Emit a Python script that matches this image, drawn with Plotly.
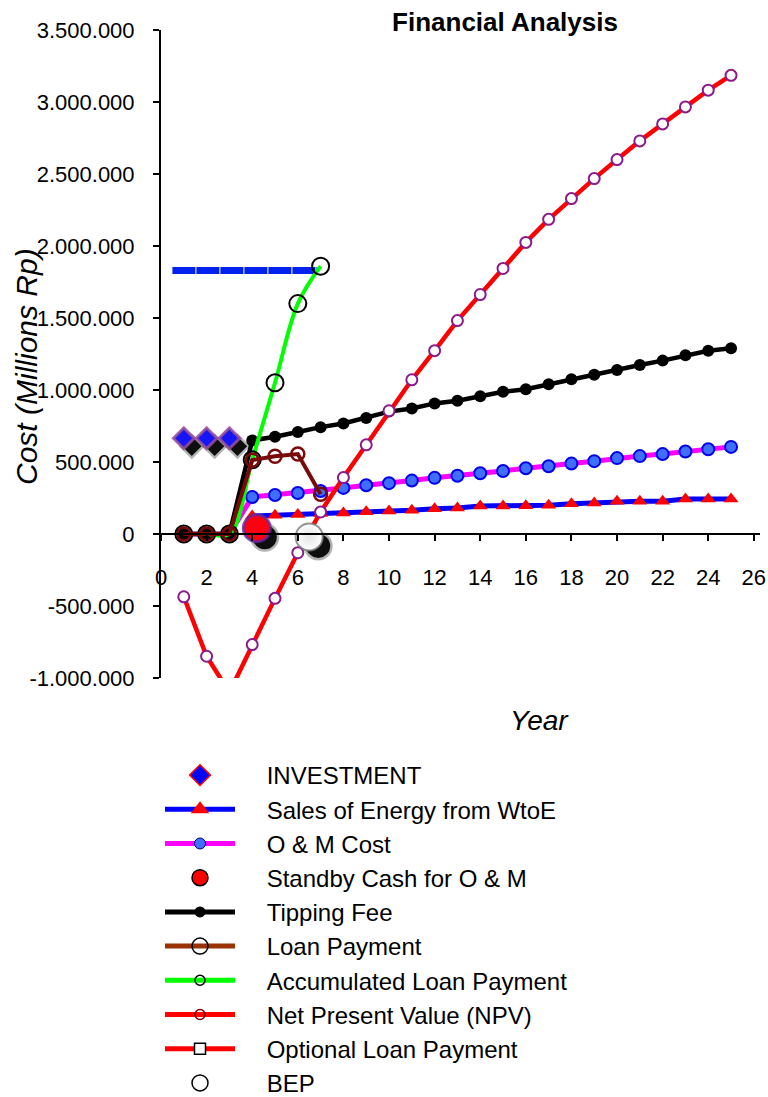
import plotly.graph_objects as go

# ---- data (values in Rp, millions) ----
years = list(range(1, 26))
project_years = list(range(1, 8))

investment_years = [1, 2, 3]
investment = [665000, 665000, 665000]

sales_years = list(range(4, 26))
sales = [125000, 130000, 135000, 142000, 146000, 155000, 160000, 165000, 175000, 180000,
         195000, 195000, 197000, 200000, 210000, 216000, 227000, 227000, 228000, 243000,
         243000, 243000]

om_cost = [0, 0, 0, 257000, 271000, 285000, 299000, 320000, 339000, 353000, 371000, 390000,
           404000, 422000, 438000, 457000, 470000, 489000, 506000, 527000, 541000, 555000,
           573000, 589000, 605000]

tipping_fee = [0, 0, 0, 650000, 675000, 708000, 742000, 767000, 805000, 850000, 872000,
               907000, 925000, 957000, 988000, 1005000, 1040000, 1074000, 1106000, 1139000,
               1174000, 1204000, 1241000, 1273000, 1290000]

npv = [-436000, -849000, -1100000, -768000, -447000, -130000, 153000, 392000, 619000, 856000,
       1071000, 1273000, 1482000, 1663000, 1844000, 2025000, 2185000, 2329000, 2468000,
       2600000, 2730000, 2848000, 2966000, 3082000, 3185000]

loan_payment = [0, 0, 0, 513000, 540000, 555000, 276000]
accumulated_loan = [0, 0, 0, 515000, 1050000, 1600000, 1860000]

total_cost_span = [0.5, 6.85]
total_cost = [1830000, 1830000]

standby_x = [4.2]
standby_cash = [40000]

bep_x = [6.5]
bep_y = [-20000]

x_ticks = list(range(0, 27, 2))
x_tick_labels = [str(v) for v in x_ticks]
y_ticks = [-1000000, -500000, 0, 500000, 1000000, 1500000, 2000000, 2500000, 3000000, 3500000]
y_tick_labels = ["-1.000.000", "-500.000", "0", "500.000", "1.000.000", "1.500.000",
                 "2.000.000", "2.500.000", "3.000.000", "3.500.000"]

legend_names = ["INVESTMENT", "Sales of Energy from WtoE", "O & M Cost",
                "Standby Cash for O & M", "Tipping Fee", "Loan Payment",
                "Accumulated Loan Payment", "Net Present Value (NPV)",
                "Optional Loan Payment", "BEP"]

# ---- geometry ----
W, H = 768, 1097
M_L, M_R, M_T, M_B = 161, 8, 30, 419
X_RANGE = [0, 26.27]
Y_RANGE = [-1000000, 3500000]
plot_w = W - M_L - M_R
plot_h = H - M_T - M_B
x_per_px = (X_RANGE[1] - X_RANGE[0]) / plot_w
y_per_px = (Y_RANGE[1] - Y_RANGE[0]) / plot_h

FONT = "Liberation Sans, Arial, sans-serif"
LEGEND_PAD = "\u00a0" * 4

fig = go.Figure()


def add_shadow(xs, ys, symbol, size, dx_px, dy_px):
    """Soft drop shadow: a faint halo under a dark core, offset down-right."""
    sx = [x + dx_px * x_per_px for x in xs]
    sy = [y - dy_px * y_per_px for y in ys]
    fig.add_trace(go.Scatter(x=sx, y=sy, mode="markers", hoverinfo="skip", showlegend=False,
                             marker=dict(symbol=symbol, size=size + 3,
                                         color="rgba(0,0,0,0.3)", line=dict(width=0))))
    fig.add_trace(go.Scatter(x=sx, y=sy, mode="markers", hoverinfo="skip", showlegend=False,
                             marker=dict(symbol=symbol, size=size - 2,
                                         color="rgba(0,0,0,0.92)", line=dict(width=0))))


# horizontal total-cost level
fig.add_trace(go.Scatter(x=total_cost_span, y=total_cost, mode="lines",
                         line=dict(color="#0022EE", width=7, dash="23,1"),
                         showlegend=False, hoverinfo="skip"))

fig.add_trace(go.Scatter(x=sales_years, y=sales, mode="lines+markers",
                         line=dict(color="#0000FF", width=5),
                         marker=dict(symbol="triangle-up", size=13, color="#FF0000"),
                         showlegend=False))

fig.add_trace(go.Scatter(x=years, y=om_cost, mode="lines+markers",
                         line=dict(color="#FF00FF", width=5),
                         marker=dict(symbol="circle", size=12, color="#3F6FFF",
                                     line=dict(color="#0000EE", width=2)),
                         showlegend=False))

fig.add_trace(go.Scatter(x=years, y=tipping_fee, mode="lines+markers",
                         line=dict(color="#000000", width=4.5),
                         marker=dict(symbol="circle", size=12, color="#000000"),
                         showlegend=False))

fig.add_trace(go.Scatter(x=years, y=npv, mode="lines+markers",
                         line=dict(color="#FF0000", width=4.5),
                         marker=dict(symbol="circle", size=11, color="#FFFFFF",
                                     line=dict(color="#8B1A8B", width=2)),
                         showlegend=False))

fig.add_trace(go.Scatter(x=project_years, y=accumulated_loan, mode="lines+markers",
                         line=dict(color="#00FF00", width=4, shape="spline"),
                         marker=dict(symbol="circle-open", size=17, color="#000000",
                                     line=dict(width=2)),
                         showlegend=False))

fig.add_trace(go.Scatter(x=project_years, y=loan_payment, mode="lines+markers",
                         line=dict(color="#7A0A0A", width=4),
                         marker=dict(symbol="circle-open", size=13, color="#7A0A0A",
                                     line=dict(width=2.5)),
                         showlegend=False))

# investment diamonds
add_shadow(investment_years, investment, "diamond", 17, 8, 8)
fig.add_trace(go.Scatter(x=investment_years, y=investment, mode="markers",
                         marker=dict(symbol="diamond", size=16, color="#1515F5",
                                     line=dict(color="rgba(150,80,150,0.85)", width=3)),
                         showlegend=False))

# standby cash
add_shadow(standby_x, standby_cash, "circle", 26, 8, 9)
fig.add_trace(go.Scatter(x=standby_x, y=standby_cash, mode="markers",
                         marker=dict(symbol="circle", size=27, color="#FF0010",
                                     line=dict(color="rgba(100,40,160,0.8)", width=3)),
                         showlegend=False))

# break-even point
add_shadow(bep_x, bep_y, "circle", 26, 9, 9)
fig.add_trace(go.Scatter(x=bep_x, y=bep_y, mode="markers",
                         marker=dict(symbol="circle", size=27, color="#FFFFFF",
                                     gradient=dict(type="radial", color="#e4e4e4"),
                                     line=dict(color="rgba(120,120,120,0.8)", width=2)),
                         showlegend=False))

# ---- legend entries ----
legend_styles = [
    dict(mode="markers", marker=dict(symbol="diamond", size=16, color="#0000FF",
                                     line=dict(color="#FF0000", width=1.5))),
    dict(mode="lines+markers", line=dict(color="#0000FF", width=5),
         marker=dict(symbol="triangle-up", size=16, color="#FF0000")),
    dict(mode="lines+markers", line=dict(color="#FF00FF", width=5),
         marker=dict(symbol="circle", size=11, color="#3F6FFF",
                     line=dict(color="#000080", width=1))),
    dict(mode="markers", marker=dict(symbol="circle", size=16, color="#FF0000",
                                     line=dict(color="#000000", width=1.5))),
    dict(mode="lines+markers", line=dict(color="#000000", width=5),
         marker=dict(symbol="circle", size=11, color="#000000")),
    dict(mode="lines+markers", line=dict(color="#993300", width=5),
         marker=dict(symbol="circle-open", size=16, color="#000000", line=dict(width=1.5))),
    dict(mode="lines+markers", line=dict(color="#00FF00", width=5),
         marker=dict(symbol="circle-open", size=10, color="#000000", line=dict(width=1.5))),
    dict(mode="lines+markers", line=dict(color="#FF0000", width=5),
         marker=dict(symbol="circle-open", size=10, color="#800000", line=dict(width=1.5))),
    dict(mode="lines+markers", line=dict(color="#FF0000", width=5),
         marker=dict(symbol="square", size=11, color="#FFFFFF",
                     line=dict(color="#000000", width=1.5))),
    dict(mode="markers", marker=dict(symbol="circle", size=16, color="#FFFFFF",
                                     line=dict(color="#000000", width=1.5))),
]
for name, style in zip(legend_names, legend_styles):
    fig.add_trace(go.Scatter(x=[None], y=[None], name=LEGEND_PAD + name,
                             showlegend=True, **style))

fig.update_layout(
    width=W, height=H,
    margin=dict(l=M_L, r=M_R, t=M_T, b=M_B, pad=0, autoexpand=False),
    paper_bgcolor="white", plot_bgcolor="white",
    font=dict(family=FONT, color="#000000"),
    title=dict(text="<b>Financial Analysis</b>", x=505 / W, xref="container",
               xanchor="center", y=1 - 22 / H, yref="container", yanchor="middle",
               font=dict(size=26, family=FONT)),
    xaxis=dict(range=X_RANGE, anchor="free", position=1 / 4.5,
               showline=True, linecolor="#000000", linewidth=2,
               ticks="outside", ticklen=6, tickwidth=2, tickcolor="#000000",
               tickvals=x_ticks, ticktext=x_tick_labels, ticklabelstandoff=18,
               tickfont=dict(size=22), showgrid=False, zeroline=False,
               automargin=False),
    yaxis=dict(range=Y_RANGE, showline=True, linecolor="#000000", linewidth=2,
               ticks="outside", ticklen=6, tickwidth=2, tickcolor="#000000",
               tickvals=y_ticks, ticktext=y_tick_labels, ticklabelstandoff=14,
               tickfont=dict(size=22), showgrid=False, zeroline=False,
               automargin=False),
    legend=dict(xref="container", yref="container", x=160 / W, y=1 - 753 / H,
                xanchor="left", yanchor="top", itemwidth=70,
                font=dict(size=24, family=FONT), bgcolor="rgba(0,0,0,0)",
                tracegroupgap=0),
    annotations=[
        dict(text="<i>Cost (Millions Rp)</i>", xref="paper", yref="paper",
             x=(26 - M_L) / plot_w, y=(H - M_B - 367) / plot_h, xanchor="center",
             yanchor="middle", textangle=-90, showarrow=False,
             font=dict(size=30, family=FONT)),
        dict(text="<i>Year</i>", xref="paper", yref="paper",
             x=(539 - M_L) / plot_w, y=(H - M_B - 720) / plot_h, xanchor="center",
             yanchor="middle", showarrow=False, font=dict(size=28, family=FONT)),
    ],
)

fig.write_html("out.html")
